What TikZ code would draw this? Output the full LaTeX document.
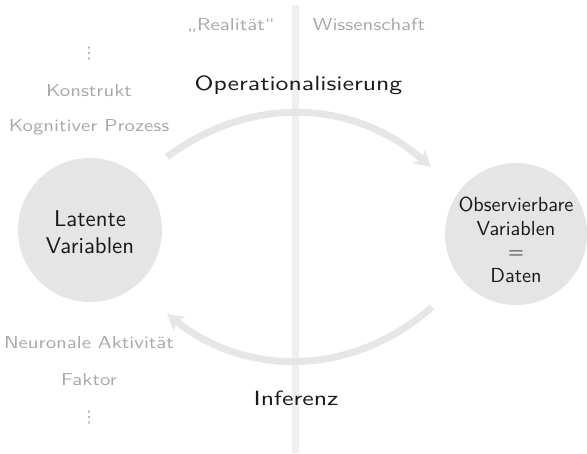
\documentclass[tikz,border=0pt]{standalone}
\usepackage{fontspec}
\newfontfamily\brightfont{lmsans10-regular.otf}[FakeStretch=1.25]
\newfontfamily\plainfont{lmsans10-regular.otf}
\newfontfamily\greyfont{lmsans10-regular.otf}[FakeStretch=1.2]
\newfontfamily\symfont{DejaVu Sans}
\usetikzlibrary{arrows.meta}
\definecolor{lightbar}{HTML}{EFEFEF}
\definecolor{arcgrey}{HTML}{E6E6E6}
\definecolor{circgrey}{HTML}{E5E5E5}
\definecolor{labgrey}{HTML}{A8A8A8}
\definecolor{txtblack}{HTML}{1A1A1A}
\begin{document}
\begin{tikzpicture}[x=1pt,y=-1pt,
  bigtext/.style={font=\brightfont\fontsize{20.6}{25}\selectfont, text=txtblack, inner sep=0pt},
  greylab/.style={font=\greyfont\fontsize{17.3}{21}\selectfont, text=labgrey, inner sep=0pt},
  dotslab/.style={font=\symfont\fontsize{16}{19}\selectfont, text=labgrey, inner sep=0pt},
  circnode/.style={circle, fill=circgrey, minimum size=144pt, inner sep=0pt},
  circtext/.style={align=center, text=txtblack, inner sep=0pt},
  flowarc/.style={draw=arcgrey, line width=7pt, -{Stealth[length=16pt,width=18pt,inset=4pt]}}
]
\useasboundingbox (0,0) rectangle (587,453);
% vertical separator
\coordinate (bartop) at (295.5,5);
\coordinate (barbot) at (295.5,453);
\draw[lightbar, line width=7pt] (bartop) -- (barbot);

% headings
\node[greylab, anchor=base] (real) at (231,30) {„Realität“};
\node[greylab, anchor=base] (wiss) at (369,30) {Wissenschaft};

% left labels
\node[dotslab, anchor=base] (vdots1) at (89,58) {⋮};
\node[greylab, anchor=base] (konstrukt) at (89,96) {Konstrukt};
\node[greylab, anchor=base] (kogn) at (89,131) {Kognitiver Prozess};
\node[greylab, anchor=base] (neuro) at (89,348) {Neuronale Aktivität};
\node[greylab, anchor=base] (faktor) at (89,385) {Faktor};
\node[dotslab, anchor=base] (vdots2) at (89,422) {⋮};

% circles
\node[circnode] (latent) at (90,230) {};
\node[circtext, font=\plainfont\fontsize{22.8}{27}\selectfont] (latenttext) at (90,232) {Latente\\Variablen};
\node[circnode, minimum size=142pt] (obs) at (516,234) {};
\node[circtext, font=\plainfont\fontsize{20.3}{23.5}\selectfont] (obstext) at (516,240) {Observierbare\\Variablen\\=\\Daten};

% process labels
\node[bigtext, anchor=base] (oper) at (298.5,90) {Operationalisierung};
\node[bigtext, anchor=base] (inf) at (296,405) {Inferenz};

% arcs
\coordinate (a1s) at (167,157);
\coordinate (a1e) at (431,167);
\coordinate (a2s) at (432,307);
\coordinate (a2e) at (167,314);
\draw[flowarc] (a1s) to[bend left=39] (a1e);
\draw[flowarc] (a2s) to[bend left=40] (a2e);
\end{tikzpicture}
\end{document}
